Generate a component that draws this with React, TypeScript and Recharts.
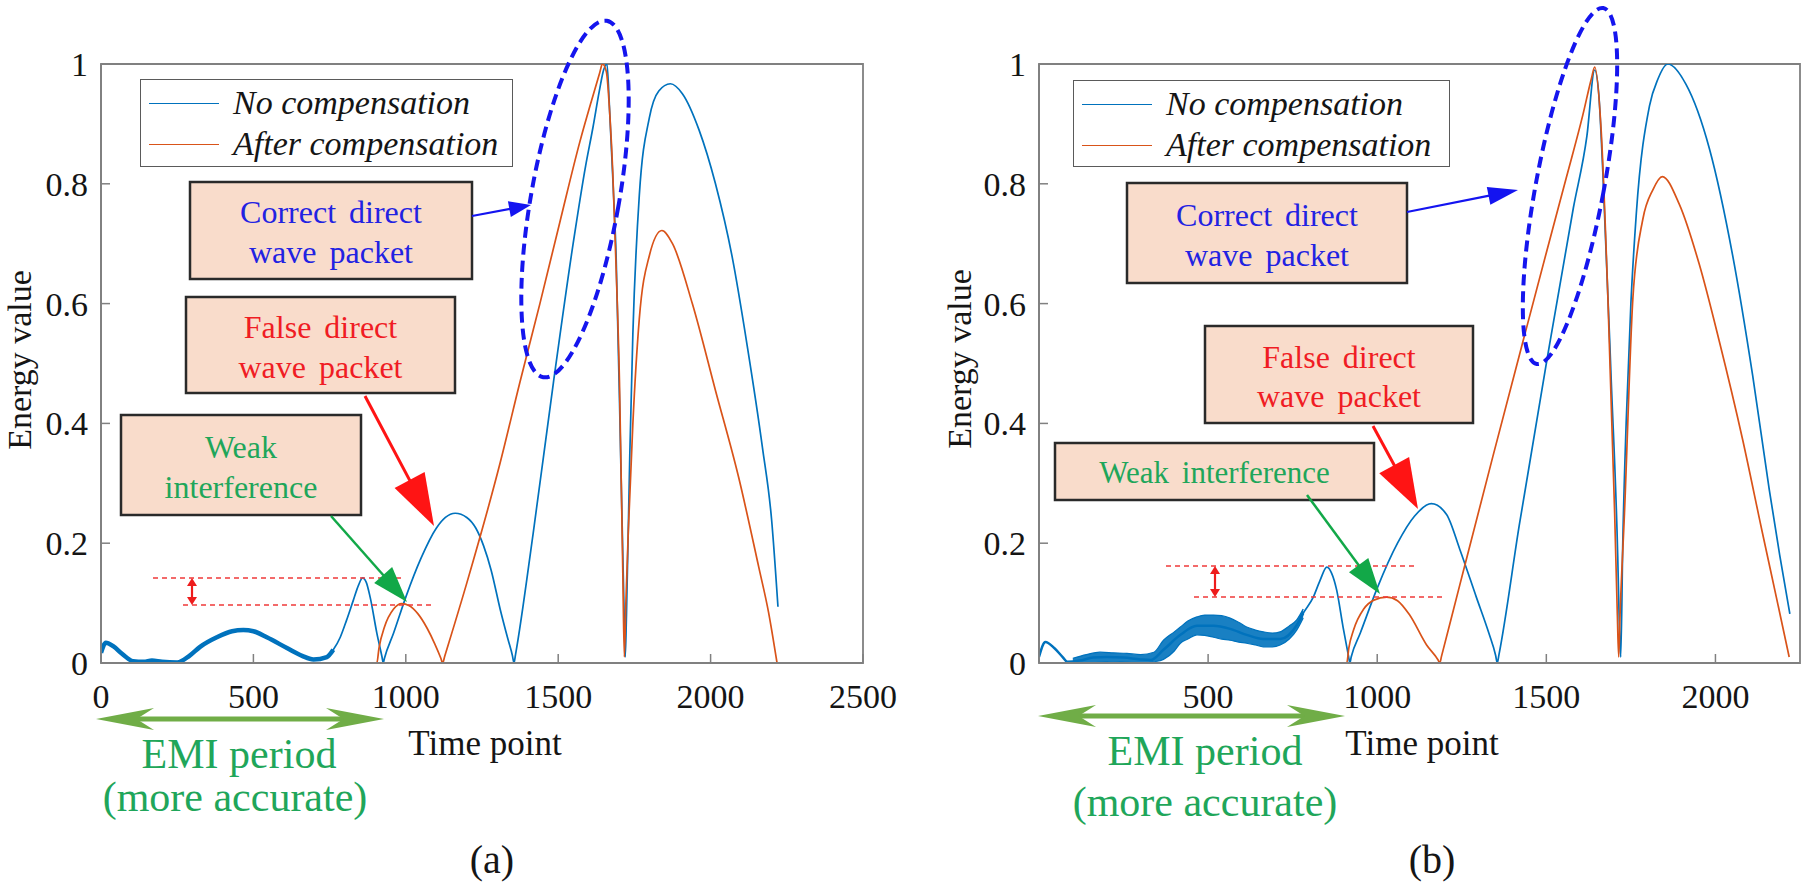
import React from 'react';
import { ComposedChart, Line, Area, XAxis, YAxis, Legend, ReferenceArea } from 'recharts';

// ---------- panel (a) ----------
const aEmiX = [0, 16, 40, 70, 105, 140, 167, 200, 250, 290, 325, 380, 430, 467, 500, 544, 610, 660, 697, 741, 762];
const aEmiY = [0.017, 0.034, 0.028, 0.015, 0.003, 0.002, 0.004, 0.002, 0.001, 0.012, 0.027, 0.043, 0.053, 0.055, 0.053, 0.043, 0.025, 0.012, 0.006, 0.01, 0.022];

const aBlueX = [741, 762, 785, 806, 828, 845, 858, 870, 883, 905, 922, 926, 930, 960, 1000, 1050, 1100, 1130, 1162, 1200, 1230, 1255, 1280, 1310, 1335, 1350, 1355, 1360, 1418, 1484, 1549, 1590, 1614, 1635, 1649, 1660, 1668, 1680, 1690, 1706, 1716, 1720, 1724, 1735, 1745, 1766, 1799, 1830, 1868, 1908, 1962, 2016, 2070, 2120, 2170, 2200, 2221];
const aBlueY = [0.01, 0.022, 0.043, 0.072, 0.105, 0.13, 0.142, 0.135, 0.11, 0.05, 0.01, 0, 0.008, 0.05, 0.11, 0.175, 0.225, 0.243, 0.25, 0.243, 0.225, 0.196, 0.155, 0.089, 0.04, 0.012, 0, 0.014, 0.217, 0.467, 0.7, 0.83, 0.894, 0.955, 0.99, 1.0, 0.93, 0.8, 0.68, 0.32, 0.09, 0.01, 0.08, 0.35, 0.55, 0.78, 0.91, 0.955, 0.967, 0.95, 0.89, 0.8, 0.68, 0.53, 0.36, 0.24, 0.094];

const aOrangeX = [0, 905, 912, 930, 960, 987, 1010, 1040, 1070, 1095, 1115, 1121, 1127, 1201, 1310, 1375, 1440, 1505, 1571, 1610, 1636, 1645, 1658, 1670, 1679, 1690, 1701, 1712, 1717, 1722, 1730, 1745, 1766, 1799, 1840, 1875, 1940, 2016, 2092, 2158, 2190, 2218];
const aOrangeY = [0, 0, 0.025, 0.06, 0.09, 0.099, 0.096, 0.082, 0.058, 0.032, 0.008, 0, 0.01, 0.135, 0.335, 0.47, 0.6, 0.735, 0.87, 0.94, 0.985, 1.0, 0.987, 0.91, 0.82, 0.66, 0.47, 0.15, 0.01, 0.1, 0.22, 0.4, 0.574, 0.68, 0.722, 0.7, 0.6, 0.455, 0.31, 0.16, 0.085, 0];

// ---------- panel (b) ----------
const bEmiX = [0, 19, 45, 70, 84, 120, 160, 200, 250, 300, 330, 368, 418, 467, 516, 565, 614, 663, 713, 762, 781];
const bEmiY = [0.01, 0.035, 0.025, 0.01, 0.002, 0.004, 0.009, 0.01, 0.009, 0.006, 0.005, 0.022, 0.047, 0.062, 0.062, 0.057, 0.047, 0.04, 0.04, 0.063, 0.083];

// noisy EMI band (lower / upper envelope)
const bBandX = [100, 140, 180, 220, 260, 300, 340, 368, 400, 418, 440, 467, 490, 516, 540, 565, 590, 614, 640, 663, 690, 713, 740, 762, 781];
const bBandLo = [0, 0, 0.001, 0.002, 0.001, 0, 0.002, 0.006, 0.02, 0.033, 0.04, 0.047, 0.046, 0.043, 0.04, 0.038, 0.035, 0.033, 0.03, 0.027, 0.027, 0.03, 0.04, 0.055, 0.075];
const bBandHi = [0.008, 0.014, 0.018, 0.017, 0.016, 0.014, 0.018, 0.038, 0.052, 0.06, 0.07, 0.077, 0.08, 0.08, 0.079, 0.075, 0.068, 0.06, 0.055, 0.052, 0.05, 0.052, 0.062, 0.072, 0.09];

const bBlueX = [762, 781, 811, 831, 851, 865, 880, 899, 915, 919, 923, 950, 1000, 1060, 1110, 1160, 1205, 1244, 1293, 1330, 1350, 1355, 1360, 1420, 1500, 1580, 1620, 1643, 1655, 1667, 1692, 1711, 1716, 1720, 1726, 1736, 1750, 1766, 1805, 1830, 1859, 1913, 1982, 2051, 2110, 2159, 2190, 2220];
const bBlueY = [0.063, 0.083, 0.11, 0.138, 0.16, 0.15, 0.122, 0.06, 0.012, 0, 0.01, 0.05, 0.125, 0.2, 0.245, 0.266, 0.248, 0.19, 0.11, 0.05, 0.013, 0, 0.014, 0.23, 0.5, 0.76, 0.88, 0.99, 0.95, 0.82, 0.47, 0.18, 0.06, 0.01, 0.2, 0.4, 0.6, 0.75, 0.93, 0.975, 1.0, 0.966, 0.859, 0.68, 0.48, 0.29, 0.18, 0.082];

const bOrangeX = [0, 910, 916, 930, 960, 990, 1028, 1060, 1096, 1146, 1180, 1185, 1190, 1244, 1342, 1431, 1500, 1559, 1608, 1633, 1643, 1662, 1682, 1702, 1710, 1714, 1718, 1731, 1756, 1785, 1815, 1843, 1893, 1952, 2011, 2080, 2139, 2180, 2218];
const bOrangeY = [0, 0, 0.025, 0.055, 0.09, 0.105, 0.11, 0.104, 0.08, 0.03, 0.005, 0, 0.011, 0.13, 0.345, 0.537, 0.685, 0.81, 0.915, 0.975, 0.995, 0.89, 0.61, 0.25, 0.08, 0.01, 0.08, 0.25, 0.61, 0.74, 0.79, 0.812, 0.766, 0.666, 0.538, 0.374, 0.217, 0.11, 0.01];

// ---------- axes / legend ----------
const aXTicks = [0, 500, 1000, 1500, 2000, 2500];
const bXTicks = [500, 1000, 1500, 2000];
const yTicks = [0, 0.2, 0.4, 0.6, 0.8, 1];
const SERIES_NAMES = ['No compensation', 'After compensation'];

const BLUE = '#0072BD';
const ORANGE = '#D95319';
const SERIES_COLORS = [BLUE, ORANGE];
const AXIS = '#808080';
const FONT = '"Liberation Serif", "Times New Roman", serif';
const TXT_BLUE = '#2222e2';
const TXT_RED = '#f01c24';
const TXT_GREEN = '#1fa65a';
const BOX_FILL = '#f9dccb';

const zip = (xs: number[], ys: number[]) => xs.map((x, i) => ({ x, y: ys[i] }));
const zipRange = (xs: number[], lo: number[], hi: number[]) => xs.map((x, i) => ({ x, r: [lo[i], hi[i]] }));

const BottomTick = (p: any) => (
  <g>
    <line x1={p.x} y1={p.y} x2={p.x} y2={p.y - 9} stroke={AXIS} strokeWidth={1.5} />
    <text x={p.x} y={p.y + 45} textAnchor="middle" fontSize={34} fontFamily={FONT} fill="#151515">
      {p.payload.value}
    </text>
  </g>
);
const TopTick = (p: any) => <line x1={p.x} y1={p.y} x2={p.x} y2={p.y + 9} stroke={AXIS} strokeWidth={1.5} />;
const LeftTick = (p: any) => (
  <g>
    <line x1={p.x} y1={p.y} x2={p.x + 9} y2={p.y} stroke={AXIS} strokeWidth={1.5} />
    <text x={p.x - 13} y={p.y + 12} textAnchor="end" fontSize={34} fontFamily={FONT} fill="#151515">
      {p.payload.value}
    </text>
  </g>
);
const RightTick = (p: any) => <line x1={p.x} y1={p.y} x2={p.x - 9} y2={p.y} stroke={AXIS} strokeWidth={1.5} />;

const LegendBox = () => (
  <div style={{ width: '100%', height: '100%', boxSizing: 'border-box', border: '1.5px solid #5a5a5a', background: '#fff', position: 'relative' }}>
    {SERIES_NAMES.map((name, i) => (
      <div key={name} style={{ position: 'absolute', left: 8, top: i === 0 ? 3 : 44, height: 40, display: 'flex', alignItems: 'center' }}>
        <span style={{ display: 'inline-block', width: 70, height: 0, borderTop: `1.6px solid ${SERIES_COLORS[i]}` }} />
        <span style={{ marginLeft: 14, fontFamily: FONT, fontStyle: 'italic', fontSize: 34, color: '#151515', whiteSpace: 'nowrap', lineHeight: '40px' }}>
          {name}
        </span>
      </div>
    ))}
  </div>
);

type PanelProps = {
  left: number;
  width: number;
  yAxisW: number;
  marginRight: number;
  xDomain: [number, number];
  xTicks: number[];
  emi: { x: number; y: number }[];
  emiWidth: number;
  band?: { x: number; r: number[] }[];
  blue: { x: number; y: number }[];
  orange: { x: number; y: number }[];
  legendPos: { left: number; top: number; width: number; height: number };
};

function Panel(props: PanelProps) {
  const { left, width, yAxisW, marginRight, xDomain, xTicks, emi, emiWidth, band, blue, orange, legendPos } = props;
  const axisLine = { stroke: AXIS, strokeWidth: 1.8 };
  return (
    <div style={{ position: 'absolute', left, top: 0 }}>
      <ComposedChart width={width} height={891} margin={{ top: 64, right: marginRight, bottom: 168, left: 0 }}>
        <XAxis xAxisId="b" dataKey="x" type="number" domain={xDomain} ticks={xTicks} interval={0} allowDataOverflow
          height={60} tickSize={0} tickMargin={0} tickLine={false} axisLine={axisLine} tick={(p: any) => <BottomTick {...p} />} />
        <XAxis xAxisId="t" orientation="top" dataKey="x" type="number" domain={xDomain} ticks={xTicks} interval={0} allowDataOverflow
          height={0} tickSize={0} tickMargin={0} tickLine={false} axisLine={axisLine} tick={(p: any) => <TopTick {...p} />} />
        <YAxis yAxisId="l" type="number" domain={[0, 1]} ticks={yTicks} interval={0} allowDataOverflow
          width={yAxisW} tickSize={0} tickMargin={0} tickLine={false} axisLine={axisLine} tick={(p: any) => <LeftTick {...p} />} />
        <YAxis yAxisId="r" orientation="right" type="number" domain={[0, 1]} ticks={yTicks} interval={0} allowDataOverflow
          width={0} tickSize={0} tickMargin={0} tickLine={false} axisLine={axisLine} tick={(p: any) => <RightTick {...p} />} />
        <ReferenceArea xAxisId="b" yAxisId="l" x1={xDomain[0]} x2={xDomain[1]} y1={0} y2={1}
          fill="none" fillOpacity={0} stroke={AXIS} strokeWidth={1.8} ifOverflow="visible" />
        {band && (
          <Area xAxisId="b" yAxisId="l" data={band} dataKey="r" type="monotone" stroke={BLUE} strokeWidth={1.2}
            fill={BLUE} fillOpacity={0.9} isAnimationActive={false} legendType="none" />
        )}
        <Line xAxisId="b" yAxisId="l" data={emi} dataKey="y" type="monotone" stroke={BLUE} strokeWidth={emiWidth}
          dot={false} activeDot={false} isAnimationActive={false} legendType="none" />
        <Line xAxisId="b" yAxisId="l" data={blue} dataKey="y" name={SERIES_NAMES[0]} type="monotone" stroke={BLUE} strokeWidth={1.7}
          dot={false} activeDot={false} isAnimationActive={false} />
        <Line xAxisId="b" yAxisId="l" data={orange} dataKey="y" name={SERIES_NAMES[1]} type="monotone" stroke={ORANGE} strokeWidth={1.7}
          dot={false} activeDot={false} isAnimationActive={false} />
        <Legend content={<LegendBox />} layout="horizontal" verticalAlign="middle" align="center"
          wrapperStyle={{ left: legendPos.left, top: legendPos.top, width: legendPos.width, height: legendPos.height }} />
      </ComposedChart>
    </div>
  );
}

// ---------- annotation helpers (page pixels) ----------
function Arrow({ x1, y1, x2, y2, color, w, hl, hw }: any) {
  const L = Math.hypot(x2 - x1, y2 - y1);
  const ux = (x2 - x1) / L;
  const uy = (y2 - y1) / L;
  const bx = x2 - ux * hl;
  const by = y2 - uy * hl;
  const px = -uy;
  const py = ux;
  return (
    <g>
      <line x1={x1} y1={y1} x2={bx + ux * 2} y2={by + uy * 2} stroke={color} strokeWidth={w} />
      <polygon points={`${x2},${y2} ${bx + px * hw},${by + py * hw} ${bx - px * hw},${by - py * hw}`} fill={color} />
    </g>
  );
}

function DoubleArrowH({ x1, x2, y, color, w, hl, hw }: any) {
  const head = (tx: number, dir: number) =>
    `${tx},${y} ${tx + dir * hl},${y - hw} ${tx + dir * hl * 0.7},${y} ${tx + dir * hl},${y + hw}`;
  return (
    <g>
      <line x1={x1 + hl * 0.6} y1={y} x2={x2 - hl * 0.6} y2={y} stroke={color} strokeWidth={w} />
      <polygon points={head(x1, 1)} fill={color} />
      <polygon points={head(x2, -1)} fill={color} />
    </g>
  );
}

function DoubleArrowV({ x, y1, y2, color }: any) {
  return (
    <g>
      <line x1={x} y1={y1 + 5} x2={x} y2={y2 - 5} stroke={color} strokeWidth={2.2} />
      <polygon points={`${x},${y1} ${x - 5},${y1 + 8} ${x + 5},${y1 + 8}`} fill={color} />
      <polygon points={`${x},${y2} ${x - 5},${y2 - 8} ${x + 5},${y2 - 8}`} fill={color} />
    </g>
  );
}

function TextBox({ x, y, w, h, color, lines, ty, fs }: any) {
  return (
    <g>
      <rect x={x} y={y} width={w} height={h} fill={BOX_FILL} stroke="#2a2a2a" strokeWidth={2.5} />
      {lines.map((s: string, i: number) => (
        <text key={s} x={x + w / 2} y={ty[i] + fs * 0.33} textAnchor="middle" fontSize={fs} fontFamily={FONT}
          fill={color} style={{ wordSpacing: 5 }}>
          {s}
        </text>
      ))}
    </g>
  );
}

const BOXES = [
  { x: 190, y: 182, w: 282, h: 97, color: TXT_BLUE, lines: ['Correct direct', 'wave packet'], ty: [212, 252], fs: 32 },
  { x: 186, y: 297, w: 269, h: 96, color: TXT_RED, lines: ['False direct', 'wave packet'], ty: [327, 367], fs: 32 },
  { x: 121, y: 415, w: 240, h: 100, color: TXT_GREEN, lines: ['Weak', 'interference'], ty: [447, 487], fs: 32 },
  { x: 1127, y: 183, w: 280, h: 100, color: TXT_BLUE, lines: ['Correct direct', 'wave packet'], ty: [215, 255], fs: 32 },
  { x: 1205, y: 326, w: 268, h: 97, color: TXT_RED, lines: ['False direct', 'wave packet'], ty: [357, 396], fs: 32 },
  { x: 1055, y: 443, w: 319, h: 57, color: TXT_GREEN, lines: ['Weak interference'], ty: [473], fs: 31 },
];

const ARROWS = [
  { x1: 472, y1: 216, x2: 531, y2: 205, color: '#1414f0', w: 2.2, hl: 22, hw: 8 },
  { x1: 365, y1: 396, x2: 434, y2: 526, color: '#ff1414', w: 3, hl: 52, hw: 17 },
  { x1: 331, y1: 516, x2: 407, y2: 602, color: '#12a848', w: 2.5, hl: 36, hw: 12 },
  { x1: 1407, y1: 212, x2: 1518, y2: 190, color: '#1414f0', w: 2.2, hl: 30, hw: 9 },
  { x1: 1373, y1: 426, x2: 1418, y2: 509, color: '#ff1414', w: 3, hl: 50, hw: 17 },
  { x1: 1307, y1: 495, x2: 1380, y2: 594, color: '#12a848', w: 2.5, hl: 36, hw: 12 },
];

const DASHES = [
  { x1: 153, x2: 403, y: 578 },
  { x1: 183, x2: 433, y: 605 },
  { x1: 1166, x2: 1415, y: 566 },
  { x1: 1194, x2: 1444, y: 597 },
];

const ELLIPSES = [
  { cx: 575, cy: 199, rx: 44, ry: 181, rot: 10.1 },
  { cx: 1570, cy: 186, rx: 34, ry: 181, rot: 10.6 },
];

function Overlay() {
  return (
    <svg width={1810} height={891} style={{ position: 'absolute', left: 0, top: 0, pointerEvents: 'none' }}>
      {/* axis labels */}
      <text x={485} y={755} textAnchor="middle" fontSize={35} fontFamily={FONT} fill="#151515">Time point</text>
      <text x={1422} y={755} textAnchor="middle" fontSize={35} fontFamily={FONT} fill="#151515">Time point</text>
      <text transform="translate(31 360) rotate(-90)" textAnchor="middle" fontSize={34} fontFamily={FONT} fill="#151515">Energy value</text>
      <text transform="translate(971 359) rotate(-90)" textAnchor="middle" fontSize={34} fontFamily={FONT} fill="#151515">Energy value</text>
      <text x={492} y={873} textAnchor="middle" fontSize={40} fontFamily={FONT} fill="#151515">(a)</text>
      <text x={1432} y={873} textAnchor="middle" fontSize={40} fontFamily={FONT} fill="#151515">(b)</text>

      {/* EMI period */}
      <DoubleArrowH x1={96} x2={384} y={719} color="#70ad47" w={5} hl={58} hw={11} />
      <DoubleArrowH x1={1038} x2={1345} y={716} color="#70ad47" w={5} hl={58} hw={11} />
      <text x={239} y={768} textAnchor="middle" fontSize={42} fontFamily={FONT} fill={TXT_GREEN}>EMI period</text>
      <text x={235} y={811} textAnchor="middle" fontSize={42} fontFamily={FONT} fill={TXT_GREEN}>(more accurate)</text>
      <text x={1205} y={765} textAnchor="middle" fontSize={42} fontFamily={FONT} fill={TXT_GREEN}>EMI period</text>
      <text x={1205} y={816} textAnchor="middle" fontSize={42} fontFamily={FONT} fill={TXT_GREEN}>(more accurate)</text>

      {/* amplitude difference markers */}
      {DASHES.map((d, i) => (
        <line key={i} x1={d.x1} y1={d.y} x2={d.x2} y2={d.y} stroke="#f03a3a" strokeWidth={1.5} strokeDasharray="5 4" />
      ))}
      <DoubleArrowV x={192} y1={578} y2={605} color="#ee1c1c" />
      <DoubleArrowV x={1215} y1={566} y2={597} color="#ee1c1c" />

      {ELLIPSES.map((e, i) => (
        <ellipse key={i} cx={e.cx} cy={e.cy} rx={e.rx} ry={e.ry} transform={`rotate(${e.rot} ${e.cx} ${e.cy})`}
          fill="none" stroke="#1515ee" strokeWidth={4} strokeDasharray="11 6" />
      ))}

      {BOXES.map((b, i) => <TextBox key={i} {...b} />)}
      {ARROWS.map((a, i) => <Arrow key={i} {...a} />)}
    </svg>
  );
}

export default function App() {
  return (
    <div style={{ position: 'relative', width: 1810, height: 891, background: '#fff', overflow: 'hidden' }}>
      <style>{'body{margin:0;}'}</style>
      <Panel
        left={0}
        width={900}
        yAxisW={101}
        marginRight={37}
        xDomain={[0, 2500]}
        xTicks={aXTicks}
        emi={zip(aEmiX, aEmiY)}
        emiWidth={4.5}
        blue={zip(aBlueX, aBlueY)}
        orange={zip(aOrangeX, aOrangeY)}
        legendPos={{ left: 140, top: 79, width: 373, height: 88 }}
      />
      <Panel
        left={900}
        width={910}
        yAxisW={139}
        marginRight={10}
        xDomain={[0, 2250]}
        xTicks={bXTicks}
        emi={zip(bEmiX, bEmiY)}
        emiWidth={2.5}
        band={zipRange(bBandX, bBandLo, bBandHi)}
        blue={zip(bBlueX, bBlueY)}
        orange={zip(bOrangeX, bOrangeY)}
        legendPos={{ left: 173, top: 80, width: 377, height: 87 }}
      />
      <Overlay />
    </div>
  );
}
